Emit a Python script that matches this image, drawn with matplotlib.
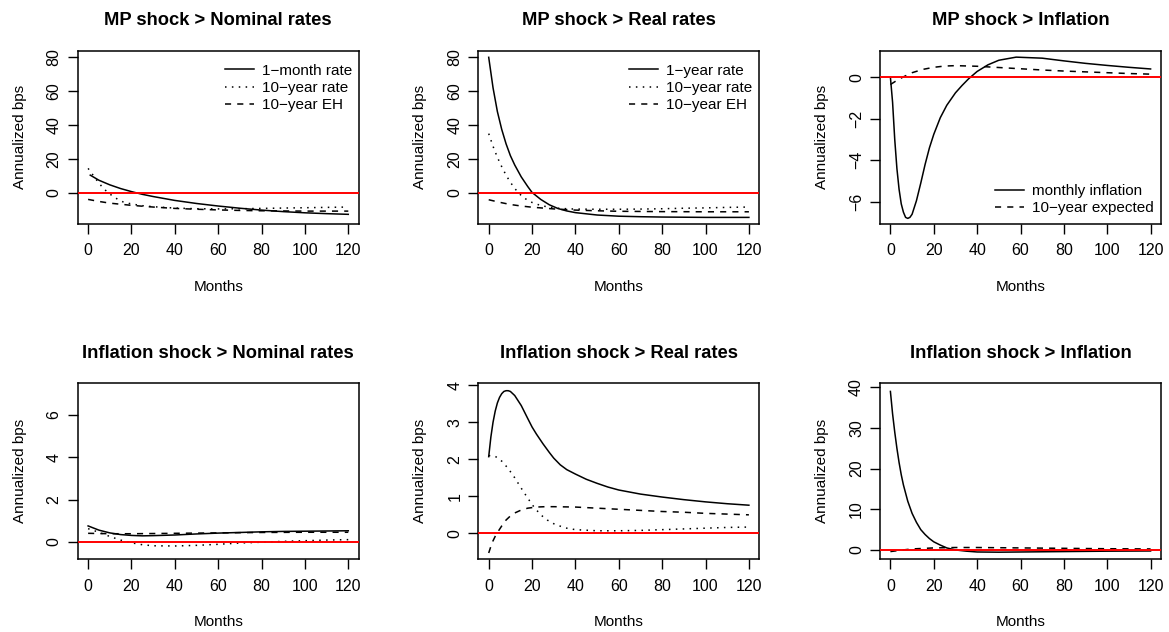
import matplotlib
matplotlib.use("Agg")
import matplotlib.pyplot as plt

plt.rcParams['font.family'] = ['Liberation Sans', 'DejaVu Sans']
plt.rcParams['axes.unicode_minus'] = True

# ---------------- data ----------------
# Panel 1: MP shock > Nominal rates
p1_solid_m = [1, 5, 10, 15, 20, 25, 30, 40, 50, 60, 70, 80, 90, 100, 110, 120]
p1_solid_v = [10.5, 7.5, 4.8, 2.6, 0.8, -0.8, -2.1, -4.4, -6.2, -7.7, -9.0, -10.1, -11.0, -11.7, -12.2, -12.6]
p1_dot_m = [0, 2, 4, 6, 8, 10, 12, 14, 16, 20, 25, 30, 40, 50, 60, 70, 80, 90, 100, 110, 120]
p1_dot_v = [14.5, 11.0, 7.5, 4.3, 1.6, -0.6, -2.4, -4.0, -5.2, -6.5, -7.5, -8.1, -8.9, -9.3, -9.4, -9.3, -9.1, -8.9, -8.7, -8.5, -8.3]
p1_dash_m = [0, 5, 10, 20, 30, 40, 50, 60, 70, 80, 90, 100, 110, 120]
p1_dash_v = [-3.8, -5.0, -6.0, -7.3, -8.3, -9.1, -9.6, -10.0, -10.3, -10.5, -10.6, -10.7, -10.7, -10.7]

# Panel 2: MP shock > Real rates
p2_solid_m = [0, 2, 4, 6, 8, 10, 12, 15, 18, 20, 24, 28, 32, 36, 40, 50, 60, 70, 80, 90, 100, 110, 120]
p2_solid_v = [80, 62, 48, 37.5, 29, 22, 16.5, 9.5, 3.8, 0.3, -3.8, -7.0, -9.2, -10.6, -11.6, -13.0, -13.7, -14.0, -14.2, -14.3, -14.4, -14.4, -14.4]
p2_dot_m = [0, 2, 4, 6, 8, 10, 12, 14, 16, 18, 20, 24, 28, 32, 36, 40, 50, 60, 70, 80, 90, 100, 110, 120]
p2_dot_v = [35, 27.5, 21, 15.5, 10.5, 6.3, 2.7, -0.3, -2.6, -4.3, -5.6, -7.4, -8.4, -9.0, -9.3, -9.5, -9.6, -9.6, -9.5, -9.3, -9.0, -8.8, -8.5, -8.3]
p2_dash_m = [0, 5, 10, 15, 20, 30, 40, 50, 60, 80, 100, 120]
p2_dash_v = [-4.0, -5.5, -6.8, -7.7, -8.4, -9.4, -10.1, -10.5, -10.8, -11.0, -11.1, -11.1]

# Panel 3: MP shock > Inflation
p3_solid_m = [0, 1, 2, 3, 4, 5, 6, 7, 8, 9, 10, 12, 14, 16, 18, 20, 23, 26, 30, 33, 36, 40, 45, 50, 58, 70, 80, 90, 100, 110, 120]
p3_solid_v = [0, -1.2, -3.0, -4.4, -5.4, -6.1, -6.5, -6.75, -6.8, -6.75, -6.6, -5.95, -5.1, -4.2, -3.4, -2.75, -1.95, -1.35, -0.75, -0.4, -0.08, 0.28, 0.6, 0.82, 0.97, 0.92, 0.79, 0.67, 0.57, 0.48, 0.4]
p3_dash_m = [0, 3, 6, 10, 15, 20, 25, 30, 40, 50, 60, 70, 80, 90, 100, 110, 120]
p3_dash_v = [-0.35, -0.15, 0.02, 0.22, 0.38, 0.48, 0.54, 0.56, 0.53, 0.47, 0.41, 0.35, 0.3, 0.26, 0.22, 0.18, 0.15]

# Panel 4: Inflation shock > Nominal rates
p4_solid_m = [0, 5, 10, 15, 20, 25, 30, 40, 50, 60, 70, 80, 90, 100, 110, 120]
p4_solid_v = [0.75, 0.55, 0.42, 0.34, 0.3, 0.28, 0.29, 0.32, 0.37, 0.41, 0.44, 0.47, 0.49, 0.5, 0.51, 0.52]
p4_dot_m = [0, 5, 10, 15, 20, 25, 30, 40, 50, 60, 70, 80, 90, 100, 110, 120]
p4_dot_v = [0.62, 0.45, 0.25, 0.08, -0.05, -0.14, -0.19, -0.2, -0.17, -0.12, -0.06, -0.02, 0.02, 0.05, 0.08, 0.1]
p4_dash_m = [0, 10, 20, 40, 60, 80, 100, 120]
p4_dash_v = [0.4, 0.38, 0.38, 0.4, 0.42, 0.44, 0.45, 0.45]

# Panel 5: Inflation shock > Real rates
p5_solid_m = [0, 1, 2, 3, 4, 5, 6, 7, 8, 9, 10, 12, 15, 18, 20, 22, 25, 28, 30, 33, 36, 40, 45, 50, 55, 60, 70, 80, 90, 100, 110, 120]
p5_solid_v = [2.07, 2.6, 3.0, 3.3, 3.52, 3.67, 3.77, 3.83, 3.85, 3.85, 3.83, 3.72, 3.45, 3.1, 2.87, 2.68, 2.42, 2.18, 2.03, 1.85, 1.72, 1.6, 1.46, 1.35, 1.25, 1.17, 1.06, 0.98, 0.91, 0.85, 0.8, 0.76]
p5_dot_m = [0, 3, 6, 9, 12, 15, 18, 21, 24, 27, 30, 35, 40, 50, 60, 70, 80, 90, 100, 110, 120]
p5_dot_v = [2.1, 2.08, 1.95, 1.75, 1.5, 1.22, 0.95, 0.7, 0.5, 0.36, 0.26, 0.15, 0.1, 0.07, 0.07, 0.08, 0.1, 0.12, 0.14, 0.16, 0.17]
p5_dash_m = [0, 1, 2, 3, 4, 6, 8, 10, 12, 15, 18, 22, 26, 30, 40, 50, 60, 70, 80, 90, 100, 110, 120]
p5_dash_v = [-0.53, -0.35, -0.2, -0.08, 0.02, 0.2, 0.36, 0.47, 0.55, 0.63, 0.68, 0.71, 0.72, 0.72, 0.71, 0.68, 0.65, 0.62, 0.59, 0.57, 0.54, 0.52, 0.5]

# Panel 6: Inflation shock > Inflation
p6_solid_m = [0, 1, 2, 3, 4, 5, 6, 8, 10, 12, 14, 16, 18, 20, 23, 26, 30, 35, 40, 50, 60, 80, 100, 120]
p6_solid_v = [39, 33.5, 29, 25, 21.5, 18.5, 16, 12, 9, 6.8, 5, 3.8, 2.8, 2.0, 1.2, 0.5, 0, -0.3, -0.5, -0.55, -0.5, -0.4, -0.3, -0.25]
p6_dash_m = [0, 5, 10, 20, 30, 40, 60, 80, 100, 120]
p6_dash_v = [-0.4, -0.05, 0.25, 0.5, 0.6, 0.6, 0.5, 0.4, 0.3, 0.25]

titles = ["MP shock > Nominal rates", "MP shock > Real rates", "MP shock > Inflation",
          "Inflation shock > Nominal rates", "Inflation shock > Real rates", "Inflation shock > Inflation"]
legend_rates_nom = ["1\u2212month rate", "10\u2212year rate", "10\u2212year EH"]
legend_rates_real = ["1\u2212year rate", "10\u2212year rate", "10\u2212year EH"]
legend_infl = ["monthly inflation", "10\u2212year expected"]
x_ticks = [0, 20, 40, 60, 80, 100, 120]
y_ticks = [[0, 20, 40, 60, 80], [0, 20, 40, 60, 80], [-6, -4, -2, 0],
           [0, 2, 4, 6], [0, 1, 2, 3, 4], [0, 10, 20, 30, 40]]
y_lims = [(-18.3, 83.9), (-18.3, 83.9), (-7.07, 1.28), (-0.83, 7.5), (-0.70, 4.05), (-2.3, 41.0)]

# ---------------- layout ----------------
W, H = 1169, 632
fig = plt.figure(figsize=(W / 100, H / 100), dpi=100)

col_left = [77.7, 478.3, 880.0]
ax_w = 281.0
row_top = [50.7, 383.3]
row_bot = [224.0, 559.3]

FS = 11.0
TICKFS = 11.5
TFS = 13.2
LW = 1.1
DASH = (0, (4, 4))
DOT = (0, (1, 3.5))

axes = []
for r in range(2):
    for c in range(3):
        l = col_left[c] / W
        b = 1 - row_bot[r] / H
        h = (row_bot[r] - row_top[r]) / H
        ax = fig.add_axes([l, b, ax_w / W, h])
        axes.append(ax)

series = [
    [(p1_solid_m, p1_solid_v, '-'), (p1_dot_m, p1_dot_v, DOT), (p1_dash_m, p1_dash_v, DASH)],
    [(p2_solid_m, p2_solid_v, '-'), (p2_dot_m, p2_dot_v, DOT), (p2_dash_m, p2_dash_v, DASH)],
    [(p3_solid_m, p3_solid_v, '-'), (p3_dash_m, p3_dash_v, DASH)],
    [(p4_solid_m, p4_solid_v, '-'), (p4_dot_m, p4_dot_v, DOT), (p4_dash_m, p4_dash_v, DASH)],
    [(p5_solid_m, p5_solid_v, '-'), (p5_dot_m, p5_dot_v, DOT), (p5_dash_m, p5_dash_v, DASH)],
    [(p6_solid_m, p6_solid_v, '-'), (p6_dash_m, p6_dash_v, DASH)],
]

for i, ax in enumerate(axes):
    lines = []
    for m, v, ls in series[i]:
        ln, = ax.plot(m, v, color='black', lw=LW, linestyle=ls)
        lines.append(ln)
    ax.axhline(0, color='#ff0000', lw=1.4, zorder=3)
    ax.set_xlim(-4.8, 124.8)
    ax.set_ylim(*y_lims[i])
    ax.set_xticks(x_ticks)
    ax.set_yticks(y_ticks[i])
    ax.tick_params(axis='both', direction='out', length=7, width=1.0, labelsize=TICKFS, colors='black')
    ax.tick_params(axis='x', pad=7)
    ax.tick_params(axis='y', pad=4.5, labelrotation=90)
    for lab in ax.get_yticklabels():
        lab.set_va('center')
    for sp in ax.spines.values():
        sp.set_linewidth(1.1)
    ax.set_title(titles[i], fontsize=TFS, fontweight='bold', pad=18.5)
    hpx = (row_bot[i // 3] - row_top[i // 3])
    ax.set_xlabel("Months", fontsize=FS, va='center')
    ax.xaxis.set_label_coords(0.5, -63 / hpx)
    ax.set_ylabel("Annualized bps", fontsize=FS, va='center')
    ax.yaxis.set_label_coords(-58 / ax_w, 0.5)

    if i in (0, 1):
        labels = legend_rates_nom if i == 0 else legend_rates_real
        ax.legend(lines, labels, loc='upper right', bbox_to_anchor=(0.976, 0.925),
                  frameon=False, fontsize=FS, handlelength=1.9, handletextpad=0.52,
                  labelspacing=0.22, borderpad=0, borderaxespad=0)
    if i == 2:
        ax.legend(lines, legend_infl, loc='lower right', bbox_to_anchor=(0.975, 0.05),
                  frameon=False, fontsize=FS, handlelength=1.9, handletextpad=0.52,
                  labelspacing=0.22, borderpad=0, borderaxespad=0)

fig.savefig("out.png", dpi=100)
